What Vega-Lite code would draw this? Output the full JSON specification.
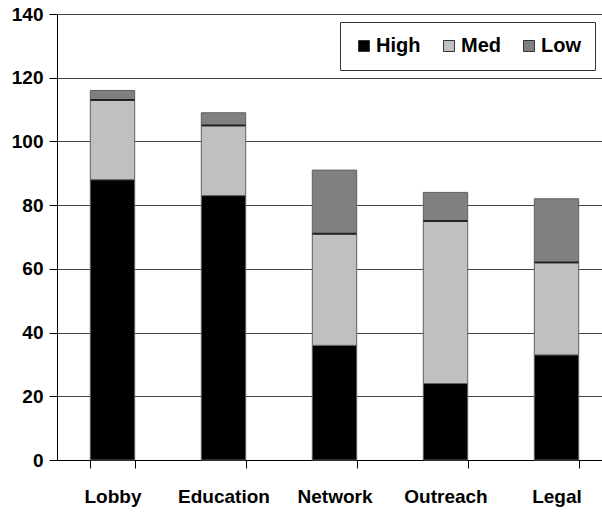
{
  "$schema": "https://vega.github.io/schema/vega-lite/v6.json",
  "autosize": "none",
  "padding": {"left": 57, "top": 14, "right": 0, "bottom": 54},
  "width": 555,
  "height": 446,
  "background": "white",
  "config": {
    "view": {"stroke": null},
    "font": "Liberation Sans, Arial"
  },
  "data": {
    "values": [
      {"category": "Lobby", "level": "High", "rank": 1, "value": 88},
      {"category": "Lobby", "level": "Med", "rank": 2, "value": 25},
      {"category": "Lobby", "level": "Low", "rank": 3, "value": 3},
      {"category": "Education", "level": "High", "rank": 1, "value": 83},
      {"category": "Education", "level": "Med", "rank": 2, "value": 22},
      {"category": "Education", "level": "Low", "rank": 3, "value": 4},
      {"category": "Network", "level": "High", "rank": 1, "value": 36},
      {"category": "Network", "level": "Med", "rank": 2, "value": 35},
      {"category": "Network", "level": "Low", "rank": 3, "value": 20},
      {"category": "Outreach", "level": "High", "rank": 1, "value": 24},
      {"category": "Outreach", "level": "Med", "rank": 2, "value": 51},
      {"category": "Outreach", "level": "Low", "rank": 3, "value": 9},
      {"category": "Legal", "level": "High", "rank": 1, "value": 33},
      {"category": "Legal", "level": "Med", "rank": 2, "value": 29},
      {"category": "Legal", "level": "Low", "rank": 3, "value": 20}
    ]
  },
  "transform": [
    {"stack": "value", "groupby": ["category"], "sort": [{"field": "rank", "order": "ascending"}], "as": ["y0", "y1"]}
  ],
  "encoding": {
    "x": {
      "field": "category",
      "type": "nominal",
      "sort": ["Lobby", "Education", "Network", "Outreach", "Legal"],
      "scale": {"paddingInner": 0.6, "paddingOuter": 0.3},
      "axis": {
        "title": null,
        "labelAngle": 0,
        "labelFont": "Liberation Sans, Arial",
        "labelFontSize": 19,
        "labelFontWeight": "bold",
        "labelColor": "black",
        "labelPadding": 19,
        "tickBand": "extent",
        "tickSize": 8,
        "tickColor": "black",
        "domainColor": "black",
        "grid": false
      }
    }
  },
  "layer": [
    {
      "mark": {"type": "bar", "stroke": "#606060", "strokeWidth": 1},
      "encoding": {
        "y": {
          "field": "y1",
          "type": "quantitative",
          "scale": {"domain": [0, 140], "nice": false},
          "axis": {
            "title": null,
            "values": [0, 20, 40, 60, 80, 100, 120, 140],
            "labelFont": "Liberation Sans, Arial",
            "labelFontSize": 19,
            "labelFontWeight": "bold",
            "labelColor": "black",
            "labelPadding": 6,
            "tickSize": 8,
            "tickColor": "black",
            "domainColor": "black",
            "grid": true,
            "gridColor": "#444444",
            "gridWidth": 1
          }
        },
        "y2": {"field": "y0"},
        "color": {
          "field": "level",
          "type": "nominal",
          "scale": {"domain": ["High", "Med", "Low"], "range": ["#000000", "#C0C0C0", "#808080"]},
          "legend": {
            "title": null,
            "orient": "none",
            "legendX": 283,
            "legendY": 8,
            "direction": "horizontal",
            "columns": 3,
            "padding": 14,
            "strokeColor": "#333333",
            "fillColor": "white",
            "symbolType": "square",
            "symbolSize": 121,
            "symbolStrokeColor": "#333333",
            "symbolStrokeWidth": 1,
            "symbolOpacity": 1,
            "labelFont": "Liberation Sans, Arial",
            "labelFontSize": 20,
            "labelFontWeight": "bold",
            "labelColor": "black",
            "labelOffset": 2,
            "columnPadding": 18
          }
        }
      }
    },
    {
      "transform": [{"filter": "datum.level === 'Med'"}],
      "mark": {"type": "tick", "color": "black", "thickness": 2, "size": 44, "orient": "horizontal"},
      "encoding": {
        "y": {"field": "y1", "type": "quantitative"}
      }
    }
  ]
}
